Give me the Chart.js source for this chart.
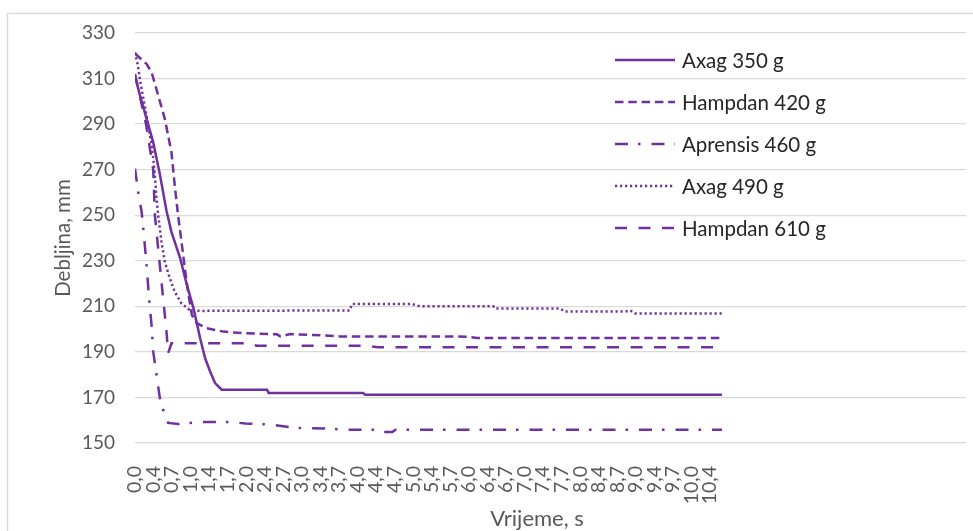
<!DOCTYPE html>
<html>
<head>
<meta charset="utf-8">
<script src="https://cdn.jsdelivr.net/npm/chart.js@4.4.1/dist/chart.umd.min.js"></script>
<style>
  html, body { margin: 0; padding: 0; background: #ffffff; }
  #wrap { width: 973px; height: 531px; }
</style>
</head>
<body>
<div id="wrap"><canvas id="c" width="973" height="531"></canvas></div>
<script>
// ---- Data (time in s, thickness in mm) ----
const TICK_LABELS = ["0,0","0,4","0,7","1,0","1,4","1,7","2,0","2,4","2,7","3,0","3,4","3,7",
  "4,0","4,4","4,7","5,0","5,4","5,7","6,0","6,4","6,7","7,0","7,4","7,7",
  "8,0","8,4","8,7","9,0","9,4","9,7","10,0","10,4"];
const TICK_STEP = 0.336;
const X_MAX = 15.05;

const X_TITLE = "Vrijeme, s";
const Y_TITLE = "Debljina, mm";

const SERIES_NAMES = ["Axag 350 g", "Hampdan 420 g", "Aprensis 460 g", "Axag 490 g", "Hampdan 610 g"];

const AXAG_350 = [[0,311],[0.09,302.6],[0.21,292.3],[0.33,282],[0.45,268],[0.57,252],[0.66,242.7],
  [0.82,231],[0.94,219.3],[1.06,209.1],[1.18,196],[1.27,187.2],[1.36,181.4],[1.45,176.3],
  [1.57,173.4],[2.39,173.4],[2.42,172.0],[4.13,172.0],[4.17,171.2],[10.63,171.2]];

const HAMPDAN_420 = [[0,321],[0.21,316.4],[0.30,312.8],[0.42,302.6],[0.54,292.3],[0.60,285],
  [0.66,277.7],[0.72,263],[0.78,250],[0.85,236.9],[0.91,225.2],[0.97,215],[1.03,206.2],
  [1.12,202.6],[1.30,200.4],[1.60,198.9],[1.96,198.2],[2.57,197.7],[2.63,196.8],[2.81,197.8],
  [3.17,197.5],[3.71,196.8],[6.01,196.7],[6.20,196.1],[10.63,196.1]];

const APRENSIS_460 = [[0,270.4],[0.06,260],[0.12,251.5],[0.15,244.2],[0.21,228.1],[0.26,212],
  [0.30,201.8],[0.33,190.1],[0.39,179.9],[0.45,169.7],[0.51,164.6],[0.60,158.8],[0.78,158.3],
  [1.18,159.2],[1.72,159.2],[2.0,158.6],[2.5,158],[2.9,156.6],[3.5,156.4],[3.8,155.8],
  [4.4,155.8],[4.45,154.8],[4.66,154.8],[4.72,155.8],[10.63,155.8]];

const AXAG_490 = [[0,321.5],[0.05,316],[0.1,308],[0.2,295],[0.27,285],[0.3,281],[0.33,275],
  [0.36,267.5],[0.39,257.3],[0.42,250],[0.48,238.3],[0.54,229.6],[0.63,222.3],[0.72,216.4],
  [0.84,211.3],[0.99,208.4],[1.18,208.0],[3.89,208.2],[3.93,211.0],[5.02,211.0],[5.16,210.0],
  [6.49,210.0],[6.52,209.0],[7.7,209.0],[7.79,207.7],[8.88,207.7],[8.97,208.2],[9.06,206.9],
  [10.63,206.9]];

const HAMPDAN_610 = [[0,312],[0.2,290],[0.33,270],[0.36,250],[0.39,242.7],[0.45,228],[0.51,213.5],
  [0.57,199],[0.6,189.4],[0.66,193.8],[2.1,193.8],[2.2,192.7],[4.2,192.7],[4.4,192],[10.63,192]];

const SERIES_VALUES = [AXAG_350, HAMPDAN_420, APRENSIS_460, AXAG_490, HAMPDAN_610];
const SERIES_DASH = [[], [8.5, 4.8], [13, 10, 2.5, 11], [2.2, 2.8], [12, 11.5]];

const PURPLE = "#7030A0";
const FONT = "Lato, 'Open Sans', sans-serif";

const bgPlugin = {
  id: "bg",
  beforeDraw(chart) {
    const ctx = chart.ctx;
    ctx.save();
    ctx.fillStyle = "#ffffff";
    ctx.fillRect(0, 0, chart.width, chart.height);
    ctx.strokeStyle = "#d9d9d9";
    ctx.lineWidth = 1.5;
    ctx.strokeRect(7.5, 13.5, 1200, 1200);
    ctx.restore();
  }
};

const textPlugin = {
  id: "customText",
  afterDraw(chart) {
    const ctx = chart.ctx;
    ctx.save();
    // legend
    chart.data.datasets.forEach((ds, i) => {
      const y = 60 + i * 42;
      ctx.beginPath();
      ctx.strokeStyle = ds.borderColor;
      ctx.lineWidth = ds.borderWidth;
      ctx.setLineDash(ds.borderDash || []);
      ctx.moveTo(615, y);
      ctx.lineTo(675, y);
      ctx.stroke();
      ctx.setLineDash([]);
      ctx.fillStyle = "#262626";
      ctx.font = "20.5px " + FONT;
      ctx.textBaseline = "middle";
      ctx.textAlign = "left";
      ctx.fillText(ds.label, 682, y + 1);
    });
    // x-axis title
    ctx.fillStyle = "#595959";
    ctx.font = "22px " + FONT;
    ctx.textAlign = "center";
    ctx.textBaseline = "middle";
    ctx.fillText(X_TITLE, 537, 519);
    ctx.restore();
  }
};

new Chart(document.getElementById("c"), {
  type: "line",
  data: {
    datasets: SERIES_NAMES.map((name, i) => ({
      label: name,
      data: SERIES_VALUES[i].map(p => ({ x: p[0], y: p[1] })),
      borderColor: PURPLE,
      borderWidth: 2.5,
      borderDash: SERIES_DASH[i],
      pointRadius: 0,
      tension: 0,
      fill: false
    }))
  },
  options: {
    responsive: false,
    animation: false,
    devicePixelRatio: 1,
    layout: { padding: { top: 33, right: 7, left: 0, bottom: 0 } },
    plugins: { legend: { display: false }, tooltip: { enabled: false } },
    scales: {
      x: {
        type: "linear",
        min: 0,
        max: X_MAX,
        afterBuildTicks(scale) {
          scale.ticks = TICK_LABELS.map((_, k) => ({ value: k * TICK_STEP }));
        },
        afterFit(scale) { scale.height = 88; },
        ticks: {
          autoSkip: false,
          maxRotation: 90,
          minRotation: 90,
          padding: 15,
          color: "#595959",
          font: { family: FONT, size: 19.5 },
          callback: (v, i) => TICK_LABELS[i]
        },
        grid: { display: false },
        border: { display: false },
        title: { display: false }
      },
      y: {
        min: 150,
        max: 330,
        afterFit(scale) { scale.width = 135; },
        ticks: {
          stepSize: 20,
          padding: 20,
          color: "#595959",
          font: { family: FONT, size: 19 }
        },
        grid: { color: "#d9d9d9", lineWidth: 1.3, drawTicks: false },
        border: { display: false },
        title: {
          display: true,
          text: Y_TITLE,
          color: "#595959",
          font: { family: FONT, size: 20.5 },
          padding: { top: 51, bottom: 0 }
        }
      }
    }
  },
  plugins: [bgPlugin, textPlugin]
});
</script>
</body>
</html>
